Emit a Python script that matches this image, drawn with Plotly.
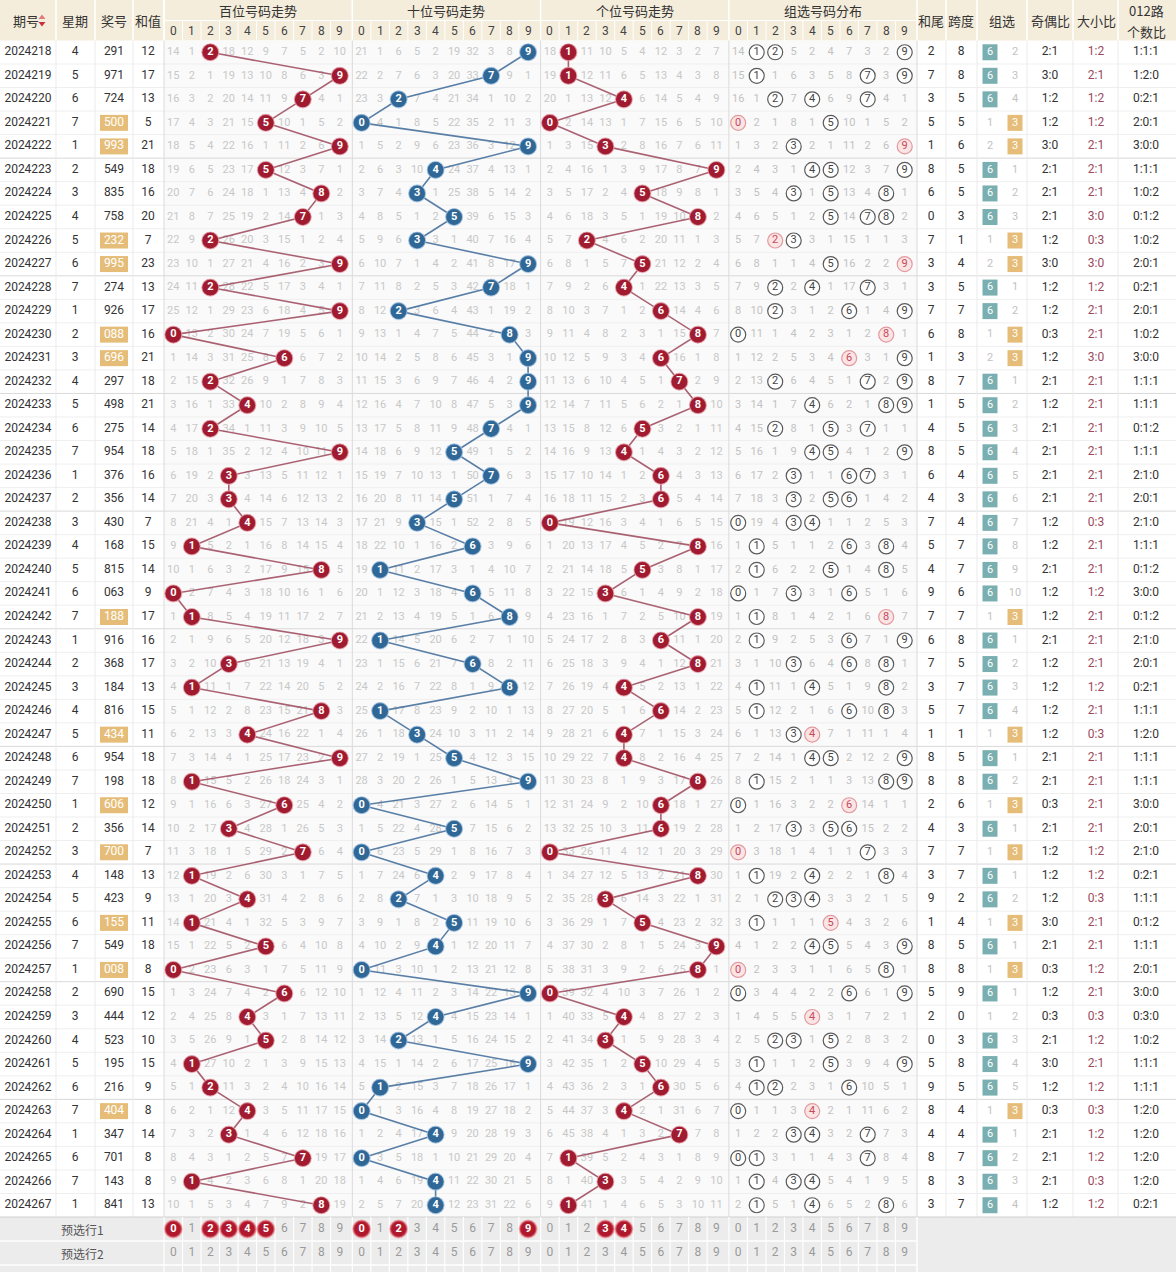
import plotly.graph_objects as go

# ---------------- data ----------------
periods = [2024218, 2024219, 2024220, 2024221, 2024222, 2024223, 2024224, 2024225, 2024226, 2024227,
           2024228, 2024229, 2024230, 2024231, 2024232, 2024233, 2024234, 2024235, 2024236, 2024237,
           2024238, 2024239, 2024240, 2024241, 2024242, 2024243, 2024244, 2024245, 2024246, 2024247,
           2024248, 2024249, 2024250, 2024251, 2024252, 2024253, 2024254, 2024255, 2024256, 2024257,
           2024258, 2024259, 2024260, 2024261, 2024262, 2024263, 2024264, 2024265, 2024266, 2024267]
weekdays = [4, 5, 6, 7, 1, 2, 3, 4, 5, 6,
            7, 1, 2, 3, 4, 5, 6, 7, 1, 2,
            3, 4, 5, 6, 7, 1, 2, 3, 4, 5,
            6, 7, 1, 2, 3, 4, 5, 6, 7, 1,
            2, 3, 4, 5, 6, 7, 1, 6, 7, 1]
draws = ["291", "971", "724", "500", "993", "549", "835", "758", "232", "995",
         "274", "926", "088", "696", "297", "498", "275", "954", "376", "356",
         "430", "168", "815", "063", "188", "916", "368", "184", "816", "434",
         "954", "198", "606", "356", "700", "148", "423", "155", "549", "008",
         "690", "444", "523", "195", "216", "404", "347", "701", "143", "841"]
sums = [12, 17, 13, 5, 21, 18, 16, 20, 7, 23,
        13, 17, 16, 21, 18, 21, 14, 18, 16, 14,
        7, 15, 14, 9, 17, 16, 17, 13, 15, 11,
        18, 18, 12, 14, 7, 13, 9, 11, 18, 8,
        15, 12, 10, 15, 9, 8, 14, 8, 8, 13]

# omission values shown on the first row (hit cells shown as balls -> 0)
bai_first = [14, 1, 0, 18, 12, 9, 7, 5, 2, 10]
shi_first = [21, 1, 6, 5, 2, 19, 32, 3, 8, 0]
ge_first = [18, 0, 11, 10, 5, 4, 12, 3, 2, 7]
zu_first = [14, 0, 0, 5, 2, 4, 7, 3, 2, 0]
zu6_first = 0
zu3_first = 2

pre1_bai = [0, 2, 3, 4, 5]
pre1_shi = [0, 2, 9]
pre1_ge = [3, 4]

digit_labels = ["0", "1", "2", "3", "4", "5", "6", "7", "8", "9"]
group_titles = ["百位号码走势", "十位号码走势", "个位号码走势", "组选号码分布"]
left_titles = ["期号", "星期", "奖号", "和值"]
right_titles = ["和尾", "跨度", "组选", "奇偶比", "大小比"]
pre_labels = ["预选行1", "预选行2"]

# ---------------- derived tables ----------------
N = len(draws)
digs = [[int(c) for c in d] for d in draws]


def omissions(first, hitsets):
    rows, prev = [], None
    for i, h in enumerate(hitsets):
        if i == 0:
            row = [0 if d in h else first[d] for d in range(10)]
        else:
            row = [0 if d in h else prev[d] + 1 for d in range(10)]
        rows.append(row)
        prev = row
    return rows


om = [omissions(bai_first, [{d[0]} for d in digs]),
      omissions(shi_first, [{d[1]} for d in digs]),
      omissions(ge_first, [{d[2]} for d in digs]),
      omissions(zu_first, [set(d) for d in digs])]

kind = []  # 6 / 3 / 0 (豹子)
for d in digs:
    s = len(set(d))
    kind.append(6 if s == 3 else (3 if s == 2 else 0))
z6, z3 = [], []
for i, k in enumerate(kind):
    if i == 0:
        a, b = (0 if k == 6 else zu6_first), (0 if k == 3 else zu3_first)
    else:
        a = 0 if k == 6 else z6[-1] + 1
        b = 0 if k == 3 else z3[-1] + 1
    z6.append(a)
    z3.append(b)

hewei = [s % 10 for s in sums]
kuadu = [max(d) - min(d) for d in digs]
jiou = ["%d:%d" % (sum(x % 2 for x in d), sum(1 - x % 2 for x in d)) for d in digs]
daxiao = ["%d:%d" % (sum(x >= 5 for x in d), sum(x < 5 for x in d)) for d in digs]
lu012 = ["%d:%d:%d" % (sum(x % 3 == 0 for x in d), sum(x % 3 == 1 for x in d), sum(x % 3 == 2 for x in d)) for d in digs]

# ---------------- geometry ----------------
W, H = 1176, 1272
HEAD = 40.5
RH = 23.53
GX0 = [164.0, 352.3, 540.6, 728.9]
GEND = 917.0
CW = 18.5
LEFT_B = [0, 56, 95, 133, 164]
RIGHT_B = [917, 946, 977, 1027, 1073, 1118, 1176]
LX = [28, 75, 114, 148]
RX = [931, 961, 1002, 1050, 1096]
Z6X, Z3X, LUX = 990, 1015, 1146
DATA_END = HEAD + RH * N
PRE_Y = [DATA_END + 12, DATA_END + 36]


def ry(i):
    return HEAD + RH * (i + 0.5)


def cx(g, j):
    return GX0[g] + 9.3 + CW * j


FONT = "Roboto, 'Noto Sans CJK SC', sans-serif"
CJK = "'Noto Sans CJK SC', Roboto, sans-serif"

shapes = []


def rect(x0, y0, x1, y1, fill, lw=0, lc=None):
    shapes.append(dict(type="rect", x0=x0, y0=y0, x1=x1, y1=y1, fillcolor=fill,
                       line=dict(width=lw, color=lc or fill), layer="below"))


def line(x0, y0, x1, y1, color, w=1):
    shapes.append(dict(type="line", x0=x0, y0=y0, x1=x1, y1=y1,
                       line=dict(color=color, width=w), layer="below"))


# backgrounds
rect(0, 0, W, HEAD, "#f5eddc")
rect(164, HEAD, GEND, DATA_END, "#fafafa")
rect(0, DATA_END, W, H, "#ececec")

# header white dividers
for x in LEFT_B[1:] + RIGHT_B[:-1]:
    line(x, 0, x, HEAD, "white", 1.5)
for g in range(4):
    line(GX0[g], 0, GX0[g], HEAD, "white", 1.5)
    for j in range(1, 10):
        xb = GX0[g] + 0.05 + CW * j
        line(xb, 20.5, xb, HEAD, "white", 1)
line(164, 20.5, GEND, 20.5, "white", 1)

# row separators
for i in range(1, N):
    y = HEAD + RH * i
    line(0, y, W, y, "#d9d9d9" if i % 5 == 0 else "#efefef", 1)
# data verticals
for x in LEFT_B[1:-1] + RIGHT_B[1:-1]:
    line(x, HEAD, x, DATA_END, "#ebebeb", 1)
for g in range(4):
    line(GX0[g], HEAD, GX0[g], DATA_END, "#dadada", 1)
line(GEND, HEAD, GEND, DATA_END, "#dadada", 1)

# bottom rows dividers
line(0, DATA_END, W, DATA_END, "#d0d0d0", 1)
for k in range(1, 3):
    y = DATA_END + 24 * k
    line(0, y, GEND, y, "white", 1.5)
for g in range(4):
    for j in range(0, 10):
        xb = GX0[g] + 0.05 + CW * j
        line(xb, DATA_END, xb, H, "white", 1.2)
line(GEND, DATA_END, GEND, H, "white", 1.5)

# 组三 boxes in 奖号 column, 组选 boxes
for i in range(N):
    y = ry(i)
    if kind[i] == 3:
        rect(LX[2] - 14, y - 8, LX[2] + 14, y + 8, "#e6bd78")
        rect(Z3X - 7.5, y - 8, Z3X + 7.5, y + 8, "#e6bd78")
    if kind[i] == 6:
        rect(Z6X - 7.5, y - 8, Z6X + 7.5, y + 8, "#7aafb1")

fig = go.Figure()


def text_trace(xs, ys, texts, color, size=12, family=FONT, weight="normal"):
    fig.add_trace(go.Scatter(x=xs, y=ys, text=texts, mode="text",
                             textfont=dict(color=color, size=size, family=family, weight=weight),
                             hoverinfo="skip", showlegend=False))


# ---------------- header text ----------------
ann = []


def A(x, y, t, size=13, color="#333", family=CJK):
    ann.append(dict(x=x, y=y, text=t, showarrow=False, xanchor="center", yanchor="middle",
                    font=dict(size=size, color=color, family=family)))


A(LX[0] - 2, 20.5, left_titles[0])
for k in range(1, 4):
    A(LX[k], 20.5, left_titles[k])
for g in range(4):
    A(GX0[g] + 94, 10.5, group_titles[g])
    for j in range(10):
        A(cx(g, j), 30.8, digit_labels[j], size=12, color="#444", family=FONT)
for k in range(5):
    A(RX[k], 20.5, right_titles[k])
A(LUX, 10, "012路")
A(LUX, 31, "个数比")
fig.add_trace(go.Scatter(x=[42, 42], y=[17.5, 23.5], mode="markers",
                         marker=dict(symbol=["triangle-up", "triangle-down"], size=6,
                                     color=["#e07a7a", "#c9303e"]),
                         hoverinfo="skip", showlegend=False))

# ---------------- left columns ----------------
ys = [ry(i) for i in range(N)]
text_trace([LX[0]] * N, ys, [str(p) for p in periods], "#333")
text_trace([LX[1]] * N, ys, [str(w) for w in weekdays], "#333")
text_trace([LX[2]] * N, ys, draws, ["#ffffff" if k == 3 else "#333" for k in kind])
text_trace([LX[3]] * N, ys, [str(s) for s in sums], "#333")

# ---------------- omission numbers ----------------
mx, my, mt = [], [], []
for g in range(3):
    for i in range(N):
        for j in range(10):
            if om[g][i][j] != 0:
                mx.append(cx(g, j)); my.append(ry(i)); mt.append(str(om[g][i][j]))
text_trace(mx, my, mt, "#c8c8c8", size=11)

zx, zy, zt = [], [], []
cxs, cys, cts = [], [], []
rxs, rys, rts = [], [], []
for i in range(N):
    for j in range(10):
        v = om[3][i][j]
        if v != 0:
            zx.append(cx(3, j)); zy.append(ry(i)); zt.append(str(v))
        elif digs[i].count(j) >= 2:
            rxs.append(cx(3, j)); rys.append(ry(i)); rts.append(str(j))
        else:
            cxs.append(cx(3, j)); cys.append(ry(i)); cts.append(str(j))
text_trace(zx, zy, zt, "#c2c2c2", size=11)
fig.add_trace(go.Scatter(x=cxs, y=cys, text=cts, mode="markers+text", textposition="middle center",
                         marker=dict(size=15, color="white", line=dict(color="#5a5a5a", width=1.2)),
                         textfont=dict(color="#444", size=11, family=FONT),
                         hoverinfo="skip", showlegend=False))
fig.add_trace(go.Scatter(x=rxs, y=rys, text=rts, mode="markers+text", textposition="middle center",
                         marker=dict(size=15, color="#fbe4e4", line=dict(color="#e29a9f", width=1.2)),
                         textfont=dict(color="#c44a5c", size=11, family=FONT),
                         hoverinfo="skip", showlegend=False))

# ---------------- trend lines and balls ----------------
ball_col = ["#a01b30", "#2f6796", "#a01b30"]
line_col = ["rgba(150,60,80,0.8)", "rgba(60,105,150,0.85)", "rgba(150,60,80,0.8)"]
for g in range(3):
    xs = [cx(g, digs[i][g]) for i in range(N)]
    fig.add_trace(go.Scatter(x=xs, y=ys, mode="lines", line=dict(color=line_col[g], width=1.6),
                             hoverinfo="skip", showlegend=False))
for g in range(3):
    xs = [cx(g, digs[i][g]) for i in range(N)]
    fig.add_trace(go.Scatter(x=xs, y=ys, text=[str(digs[i][g]) for i in range(N)],
                             mode="markers+text", textposition="middle center",
                             marker=dict(size=17, color=ball_col[g],
                                         line=dict(color="rgba(235,170,180,0.7)" if g != 1 else "rgba(170,200,230,0.7)", width=1.2)),
                             textfont=dict(color="white", size=11, family=FONT, weight="bold"),
                             hoverinfo="skip", showlegend=False))

# ---------------- right columns ----------------
text_trace([RX[0]] * N, ys, [str(v) for v in hewei], "#333")
text_trace([RX[1]] * N, ys, [str(v) for v in kuadu], "#333")
text_trace([Z6X] * N, ys, ["6" if kind[i] == 6 else str(z6[i]) for i in range(N)],
           ["#ffffff" if kind[i] == 6 else "#c2c2c2" for i in range(N)], size=11)
text_trace([Z3X] * N, ys, ["3" if kind[i] == 3 else str(z3[i]) for i in range(N)],
           ["#ffffff" if kind[i] == 3 else "#c2c2c2" for i in range(N)], size=11)
text_trace([RX[3]] * N, ys, jiou, "#333")
text_trace([RX[4]] * N, ys, daxiao, "#9a4a5c")
text_trace([LUX] * N, ys, lu012, "#333")

# ---------------- 预选行 ----------------
for k in range(2):
    A(82, PRE_Y[k], pre_labels[k], size=12, color="#555")
pre_sets = [[pre1_bai, pre1_shi, pre1_ge, []], [[], [], [], []]]
px, py, pt = [], [], []
bx, by, bt = [], [], []
for k in range(2):
    for g in range(4):
        for j in range(10):
            if j in pre_sets[k][g]:
                bx.append(cx(g, j)); by.append(PRE_Y[k]); bt.append(digit_labels[j])
            else:
                px.append(cx(g, j)); py.append(PRE_Y[k]); pt.append(digit_labels[j])
text_trace(px, py, pt, "#9a9a9a", size=12)
fig.add_trace(go.Scatter(x=bx, y=by, text=bt, mode="markers+text", textposition="middle center",
                         marker=dict(size=17, color="#b0192d", line=dict(color="rgba(235,120,130,0.55)", width=2)),
                         textfont=dict(color="white", size=11, family=FONT, weight="bold"),
                         hoverinfo="skip", showlegend=False))

fig.update_layout(
    width=W, height=H, margin=dict(l=0, r=0, t=0, b=0),
    paper_bgcolor="white", plot_bgcolor="white",
    xaxis=dict(range=[0, W], visible=False, fixedrange=True),
    yaxis=dict(range=[H, 0], visible=False, fixedrange=True),
    shapes=shapes, annotations=ann, showlegend=False,
)
fig.write_html("out.html", config={"displayModeBar": False, "staticPlot": True},
               post_script="document.body.style.margin='0';document.body.style.overflow='hidden';")
